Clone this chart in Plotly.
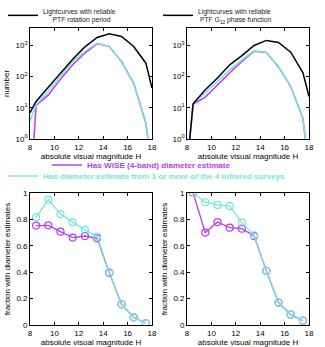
import plotly.graph_objects as go

COLOR_MAP = {
    "BLACK": "#000000",
    "MAGENTA": "#b83cf5",
    "CYAN": "#74e6dc",
}
FONT = "Liberation Sans, Arial, sans-serif"

# absolute magnitude bins (top panels include the edge values)
h_top = [8, 8.5, 9.5, 10.5, 11.5, 12.5, 13.5, 14.5, 15.5, 16.5, 17.5, 18]
h_bottom = [8.5, 9.5, 10.5, 11.5, 12.5, 13.5, 14.5, 15.5, 16.5, 17.5]

# counts, PTF rotation period sample
rot_all = [7, 16, 46, 130, 360, 900, 1800, 2350, 1950, 930, 270, 43]
rot_ir = [3.7, 12.6, 34, 107, 310, 640, 1180, 930, 310, 62, 3.3, 0.1]
rot_wise = [0.01, 12, 26, 83, 240, 570, 1150, 920, 305, 61, 3.2, 0.1]

# counts, PTF G12 phase function sample
g12_all = [0.12, 13.5, 38, 90, 240, 470, 1000, 1450, 1250, 610, 135, 23]
g12_ir = [0.12, 13.5, 30, 70, 165, 345, 670, 610, 210, 49, 4.7, 0.1]
g12_wise = [0.12, 13, 22, 55, 130, 310, 650, 600, 205, 48, 4.6, 0.1]

# fraction with diameter estimates
frac_rot_wise = [0.753, 0.755, 0.707, 0.662, 0.674, 0.657, 0.395, 0.157, 0.058, 0.013]
frac_rot_ir = [0.816, 0.95, 0.84, 0.778, 0.72, 0.67, 0.40, 0.157, 0.058, 0.013]
frac_g12_wise = [1.0, 0.70, 0.78, 0.737, 0.73, 0.674, 0.41, 0.17, 0.078, 0.033]
frac_g12_ir = [1.0, 0.93, 0.91, 0.90, 0.775, 0.68, 0.41, 0.17, 0.078, 0.033]

log_ticks = [1, 10, 100, 1000]
log_labels = ["10<sup>0</sup>", "10<sup>1</sup>", "10<sup>2</sup>", "10<sup>3</sup>"]

WISE_NAME = "<b>Has WISE (4-band) diameter estimate</b>"
IR_NAME = "<b>Has diameter estimate from 1 or more of the 4 infrared surveys</b>"
ROT_NAME = "Lightcurves with reliable<br>     PTF rotation period"
G12_NAME = "Lightcurves with reliable<br> PTF G<sub>12</sub> phase function"

fig = go.Figure()


def add_counts(xa, ya, wise, ir, total, legend_name, total_name, first):
    fig.add_trace(
        go.Scatter(
            x=h_top, y=wise, xaxis=xa, yaxis=ya, mode="lines",
            line=dict(color=COLOR_MAP["MAGENTA"], width=1.5),
            name=WISE_NAME, legend="legend3", showlegend=first,
        )
    )
    fig.add_trace(
        go.Scatter(
            x=h_top, y=ir, xaxis=xa, yaxis=ya, mode="lines",
            line=dict(color=COLOR_MAP["CYAN"], width=1.5),
            name=IR_NAME, legend="legend4", showlegend=first,
        )
    )
    fig.add_trace(
        go.Scatter(
            x=h_top, y=total, xaxis=xa, yaxis=ya, mode="lines",
            line=dict(color=COLOR_MAP["BLACK"], width=1.5),
            name=total_name, legend=legend_name,
        )
    )


def add_fractions(xa, ya, wise, ir):
    for vals, color in ((wise, COLOR_MAP["MAGENTA"]), (ir, COLOR_MAP["CYAN"])):
        fig.add_trace(
            go.Scatter(
                x=h_bottom, y=vals, xaxis=xa, yaxis=ya, mode="lines+markers",
                line=dict(color=color, width=1.3),
                marker=dict(symbol="circle-open", size=7, color=color,
                            line=dict(width=1.2, color=color)),
                showlegend=False,
            )
        )


add_counts("x", "y", rot_wise, rot_ir, rot_all, "legend", ROT_NAME, True)
add_counts("x2", "y2", g12_wise, g12_ir, g12_all, "legend2", G12_NAME, False)
add_fractions("x3", "y3", frac_rot_wise, frac_rot_ir)
add_fractions("x4", "y4", frac_g12_wise, frac_g12_ir)

left_dom = [30 / 325, 152 / 325]
right_dom = [187 / 325, 309 / 325]
top_dom = [1 - 139 / 347, 1 - 28 / 347]
bot_dom = [1 - 325 / 347, 1 - 193 / 347]

axis_style = dict(
    showline=True, linecolor="black", linewidth=0.8, mirror="ticks",
    ticks="inside", ticklen=3, tickwidth=0.8, tickcolor="black",
    showgrid=False, zeroline=False, automargin=False,
    tickfont=dict(size=8, color="black", family=FONT),
)
x_style = dict(
    axis_style, range=[8, 18], tickvals=[8, 10, 12, 14, 16, 18],
    title=dict(text="absolute visual magnitude H", standoff=2,
               font=dict(size=8, color="black", family=FONT)),
)
ylog_style = dict(axis_style, type="log", range=[0, 3.56],
                  tickvals=log_ticks, ticktext=log_labels)
yfrac_style = dict(
    axis_style, range=[0, 1], tickvals=[0, 0.2, 0.4, 0.6, 0.8, 1],
    ticktext=["0", "0.2", "0.4", "0.6", "0.8", "1"],
    title=dict(text="fraction with diameter estimates", standoff=4,
               font=dict(size=8, color="black", family=FONT)),
)

legend_common = dict(
    bgcolor="rgba(0,0,0,0)", borderwidth=0, xanchor="left",
    tracegroupgap=0, itemwidth=30,
)

fig.update_layout(
    width=325,
    height=347,
    margin=dict(l=0, r=0, t=0, b=0),
    paper_bgcolor="white",
    plot_bgcolor="white",
    font=dict(family=FONT, size=8, color="black"),
    xaxis=dict(x_style, domain=left_dom, anchor="y"),
    yaxis=dict(ylog_style, domain=top_dom, anchor="x",
               title=dict(text="number", standoff=4,
                          font=dict(size=8, color="black", family=FONT))),
    xaxis2=dict(x_style, domain=right_dom, anchor="y2"),
    yaxis2=dict(ylog_style, domain=top_dom, anchor="x2"),
    xaxis3=dict(x_style, domain=left_dom, anchor="y3"),
    yaxis3=dict(yfrac_style, domain=bot_dom, anchor="x3"),
    xaxis4=dict(x_style, domain=right_dom, anchor="y4"),
    yaxis4=dict(yfrac_style, domain=bot_dom, anchor="x4"),
    legend=dict(legend_common, x=3 / 325, y=1, yanchor="top",
                font=dict(size=6.8, color="#222222", family=FONT)),
    legend2=dict(legend_common, x=158 / 325, y=1, yanchor="top",
                 font=dict(size=6.8, color="#222222", family=FONT)),
    legend3=dict(legend_common, x=47 / 325, y=1 - 165 / 347, yanchor="middle",
                 font=dict(size=8.1, color=COLOR_MAP["MAGENTA"], family=FONT)),
    legend4=dict(legend_common, x=3 / 325, y=1 - 176 / 347, yanchor="middle",
                 font=dict(size=8.1, color=COLOR_MAP["CYAN"], family=FONT)),
)

fig.write_html(
    "out.html",
    config={"displayModeBar": False},
    post_script="document.body.style.margin='0px';",
)
